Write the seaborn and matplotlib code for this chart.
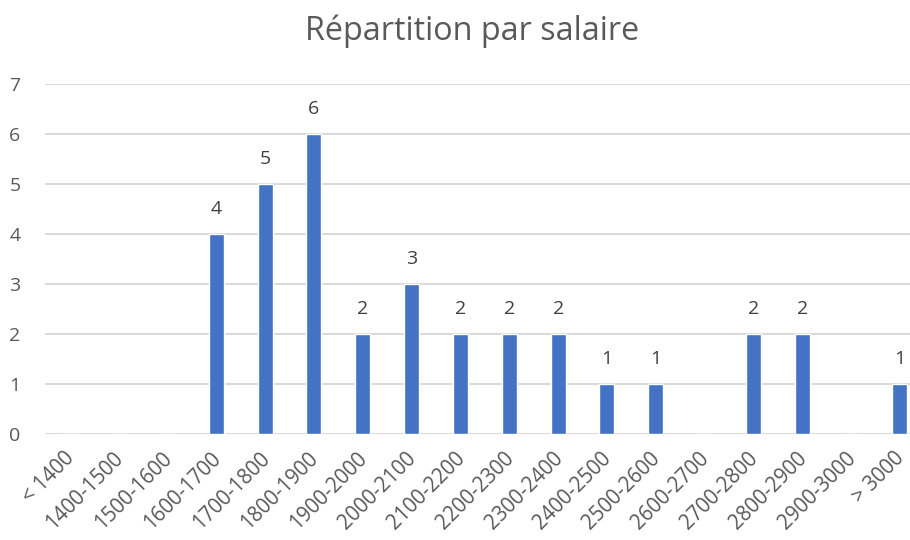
import matplotlib
matplotlib.use("Agg")
import matplotlib.pyplot as plt
import matplotlib.transforms as mtransforms
import seaborn as sns
import pandas as pd

categories = ["< 1400", "1400-1500", "1500-1600", "1600-1700", "1700-1800", "1800-1900",
              "1900-2000", "2000-2100", "2100-2200", "2200-2300", "2300-2400", "2400-2500",
              "2500-2600", "2600-2700", "2700-2800", "2800-2900", "2900-3000", "> 3000"]
counts = [0, 0, 0, 4, 5, 6, 2, 3, 2, 2, 2, 1, 1, 0, 2, 2, 0, 1]
title = "Répartition par salaire"

sns.set_theme(style="white")
plt.rcParams['font.family'] = ['Open Sans', 'DejaVu Sans']

df = pd.DataFrame({"cat": categories, "n": counts})

fig = plt.figure(figsize=(9.10, 5.40), dpi=100)
ax = fig.add_axes([45.4/910, 106/540, 879/910, 350/540])
sns.barplot(data=df, x="cat", y="n", color="#4472C4", saturation=1, width=0.307, ax=ax, zorder=3)

ax.set_ylim(0, 7)
ax.set_xlim(-0.5, len(categories) - 0.5)
ax.set_yticks(range(0, 8))
ax.yaxis.grid(True, color="#D9D9D9", linewidth=1.4, zorder=0)
ax.set_axisbelow(True)
for s in ax.spines.values():
    s.set_visible(False)
ax.set_xlabel("")
ax.set_ylabel("")
ax.tick_params(axis="y", length=0, pad=18, labelsize=14, labelcolor="#595959")
ax.tick_params(axis="x", length=0, pad=10, labelsize=14.8, labelcolor="#595959")
shift = mtransforms.ScaledTranslation(-6/100, 0, fig.dpi_scale_trans)
for lbl in ax.get_xticklabels():
    lbl.set_rotation(45)
    lbl.set_ha("right")
    lbl.set_rotation_mode("anchor")
    lbl.set_transform(lbl.get_transform() + shift)

for i, v in enumerate(counts):
    if v > 0:
        ax.annotate(str(v), (i, v), xytext=(0, 18), textcoords="offset points",
                    ha="center", va="center", fontsize=14, color="#404040")

fig.text(472/910, 1 - 31/540, title, ha="center", va="center", fontsize=23.3, color="#595959")

fig.savefig("out.png", dpi=100, facecolor="white")
